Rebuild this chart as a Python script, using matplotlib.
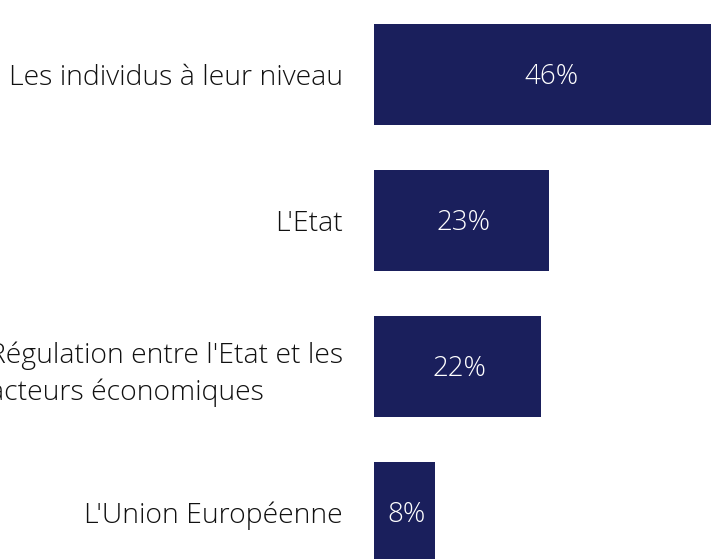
import matplotlib
matplotlib.use("Agg")
import matplotlib.pyplot as plt

# Dados
categorias = [
    "Les individus à leur niveau",
    "L'Etat",
    "Régulation entre l'Etat et les\nacteurs économiques",
    "L'Union Européenne",
]
valores = [46, 23, 22, 8]
rotulos = ["46%", "23%", "22%", "8%"]

cor_barra = "#1a1f5c"
fonte = ["Open Sans", "DejaVu Sans"]

fig = plt.figure(figsize=(7.11, 5.59), dpi=100)
# eixo começa em x=374px e vai até a borda direita (barras cortadas como no original)
ax = fig.add_axes([374 / 711, 0, 1 - 374 / 711, 1])

pos = list(range(len(categorias)))
ax.barh(pos, valores, height=0.69, color=cor_barra)

ax.set_xlim(0, 337 / 7.6)
ax.set_ylim(3.318, -0.510)

for p, v, r in zip(pos, valores, rotulos):
    ax.text(v / 2 + 0.3, p + 0.02, r, ha="center", va="center", color="white",
            fontsize=20, fontfamily=fonte, fontweight="light")

ax.set_yticks(pos)
ax.set_yticklabels(categorias, fontsize=20.4, fontfamily=fonte, fontweight="light",
                   color="#111111", linespacing=1.4)
for t in ax.get_yticklabels():
    t.set_multialignment("left")
ax.tick_params(axis="y", length=0, pad=22.3)
ax.set_xticks([])
for s in ax.spines.values():
    s.set_visible(False)

fig.savefig("out.png", dpi=100)
